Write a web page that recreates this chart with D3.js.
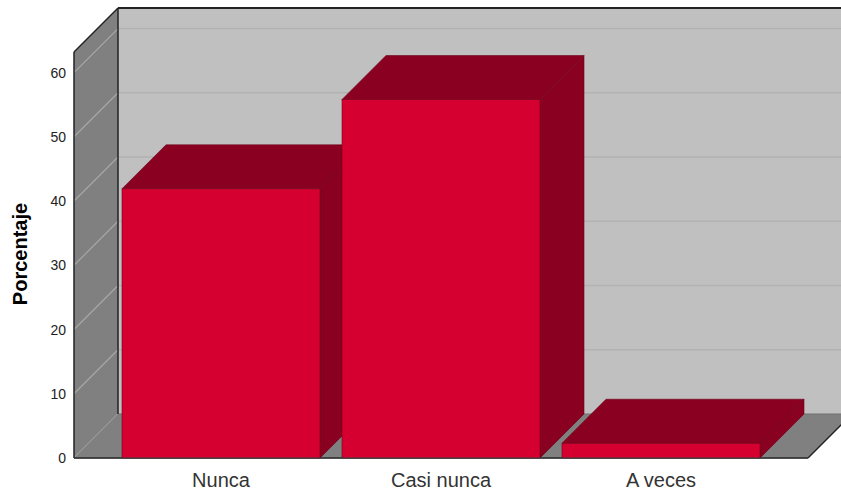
<!DOCTYPE html>
<html>
<head>
<meta charset="utf-8">
<script src="https://cdn.jsdelivr.net/npm/d3@7"></script>
<style>
  html, body { margin: 0; padding: 0; background: #ffffff; }
  svg { display: block; }
</style>
</head>
<body>
<svg id="chart" width="841" height="494"></svg>
<script>
const categories = ["Nunca", "Casi nunca", "A veces"];
const values = [41.9, 55.8, 2.3];
const yTicks = [0, 10, 20, 30, 40, 50, 60];
const yTitle = "Porcentaje";

const W = 841, H = 494;
const svg = d3.select("#chart");
const DX = 44, DY = 44;
const floorLeft = 74, floorRight = 808;

const y = d3.scaleLinear().domain([0, 63.2]).range([458, 52]);
const x = d3.scaleBand().domain(categories).range([111, 771])
  .paddingInner(0.1).paddingOuter(0.05);

const pts = a => a.map(p => p.join(",")).join(" ");
const y0 = y(0), yTop = y(63.2);

// back wall
svg.append("polygon")
  .attr("points", pts([[floorLeft + DX, yTop - DY], [floorRight + DX + 40, yTop - DY], [floorRight + DX + 40, y0 - DY], [floorLeft + DX, y0 - DY]]))
  .attr("fill", "#c0c0c0");
// back wall gridlines
svg.selectAll(".bgrid").data(yTicks.filter(d => d > 0)).enter().append("line")
  .attr("x1", floorLeft + DX).attr("x2", W)
  .attr("y1", d => y(d) - DY).attr("y2", d => y(d) - DY)
  .attr("stroke", "#b2b2b2").attr("stroke-width", 1.5);

// left wall
svg.append("polygon")
  .attr("points", pts([[floorLeft, yTop], [floorLeft + DX, yTop - DY], [floorLeft + DX, y0 - DY], [floorLeft, y0]]))
  .attr("fill", "#808080");
svg.selectAll(".lgrid").data(yTicks).enter().append("line")
  .attr("x1", floorLeft).attr("x2", floorLeft + DX)
  .attr("y1", d => y(d)).attr("y2", d => y(d) - DY)
  .attr("stroke", "#a6a6a6").attr("stroke-width", 1.2);

// floor
svg.append("polygon")
  .attr("points", pts([[floorLeft, y0], [floorRight, y0], [floorRight + DX, y0 - DY], [floorLeft + DX, y0 - DY]]))
  .attr("fill", "#808080");
svg.append("line")
  .attr("x1", floorLeft + DX).attr("x2", W).attr("y1", y0 - DY).attr("y2", y0 - DY)
  .attr("stroke", "#707070").attr("stroke-width", 1);

// edges
const edge = (x1, y1, x2, y2, w) => svg.append("line")
  .attr("x1", x1).attr("y1", y1).attr("x2", x2).attr("y2", y2)
  .attr("stroke", "#222").attr("stroke-width", w || 1.5);
edge(floorLeft + DX, yTop - DY, W, yTop - DY, 2);
edge(floorLeft, yTop, floorLeft + DX, yTop - DY);
edge(floorLeft + DX, yTop - DY, floorLeft + DX, y0 - DY);
edge(floorLeft, yTop, floorLeft, y0);
edge(floorLeft, y0, floorRight, y0);
edge(floorRight, y0, floorRight + DX, y0 - DY);

// bars
const front = "#d60030", dark = "#8a0021", outline = "#6e0019";
categories.forEach((c, i) => {
  const x0 = x(c), x1 = x0 + x.bandwidth(), yt = y(values[i]);
  const g = svg.append("g");
  g.append("polygon")
    .attr("points", pts([[x0, yt], [x0 + DX, yt - DY], [x1 + DX, yt - DY], [x1, yt]]))
    .attr("fill", dark).attr("stroke", outline).attr("stroke-width", 0.6);
  g.append("polygon")
    .attr("points", pts([[x1, yt], [x1 + DX, yt - DY], [x1 + DX, y0 - DY], [x1, y0]]))
    .attr("fill", dark).attr("stroke", outline).attr("stroke-width", 0.6);
  g.append("rect")
    .attr("x", x0).attr("y", yt).attr("width", x.bandwidth()).attr("height", y0 - yt)
    .attr("fill", front).attr("stroke", outline).attr("stroke-width", 0.6);
});
// redraw front base edge on top of bars
svg.append("line")
  .attr("x1", floorLeft).attr("x2", floorRight).attr("y1", y0).attr("y2", y0)
  .attr("stroke", "#444").attr("stroke-width", 1);

// y tick labels
svg.selectAll(".ytl").data(yTicks).enter().append("text")
  .attr("x", 66).attr("y", d => y(d) + 5)
  .attr("text-anchor", "end")
  .attr("font-family", "Liberation Sans, Arial, sans-serif")
  .attr("font-size", 14).attr("fill", "#222")
  .text(d => d);

// category labels
svg.selectAll(".xtl").data(categories).enter().append("text")
  .attr("x", d => x(d) + x.bandwidth() / 2).attr("y", 487)
  .attr("text-anchor", "middle")
  .attr("font-family", "Liberation Sans, Arial, sans-serif")
  .attr("font-size", 20).attr("fill", "#333")
  .text(d => d);

// y title
svg.append("text")
  .attr("transform", "translate(27,254) rotate(-90)")
  .attr("text-anchor", "middle")
  .attr("font-family", "Liberation Sans, Arial, sans-serif")
  .attr("font-size", 20).attr("font-weight", "bold").attr("fill", "#000")
  .text(yTitle);
</script>
</body>
</html>
